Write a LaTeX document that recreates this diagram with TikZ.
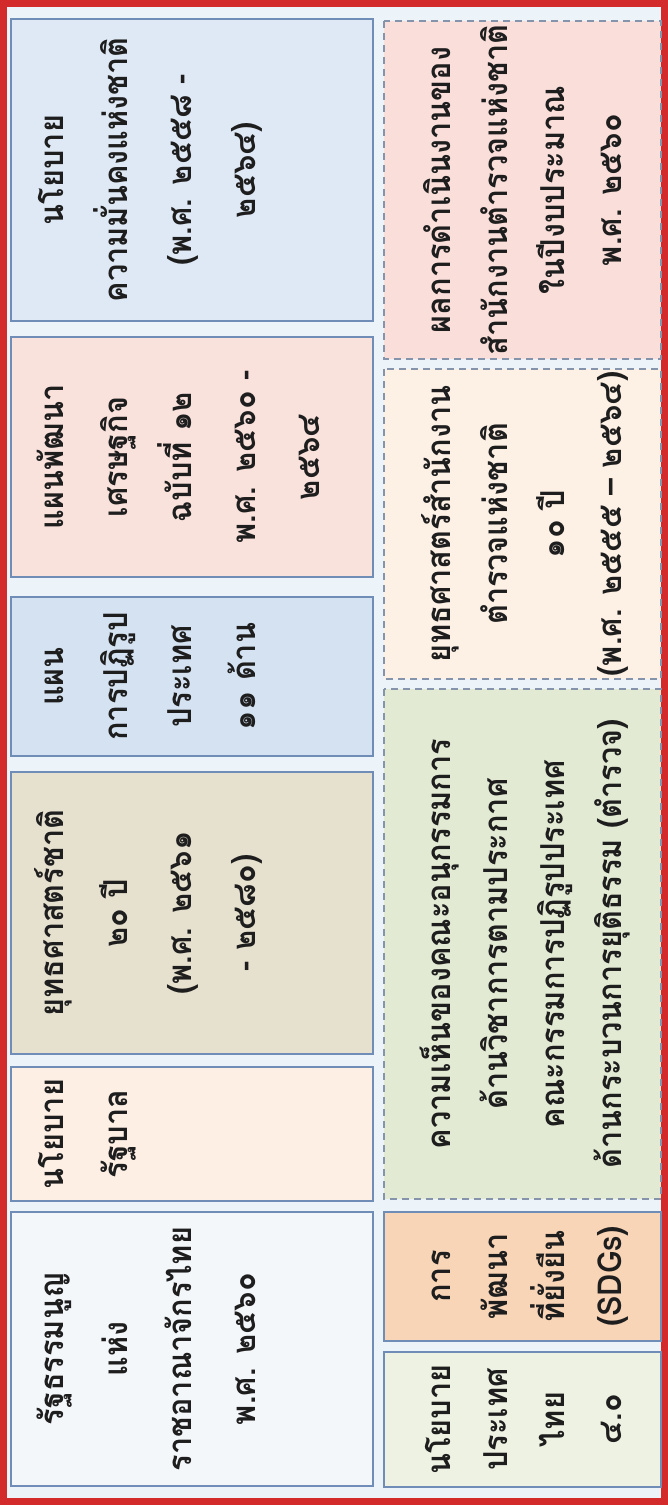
\documentclass[tikz,border=0pt]{standalone}
\usepackage{fontspec}
\newfontfamily\thaifont[Script=Thai,FakeStretch=0.93]{Loma}
\newcommand{\boxlines}[1]{\begin{tabular}[t]{@{}c@{}}#1\end{tabular}}
\definecolor{framered}{HTML}{D32B2B}
\definecolor{sheet}{HTML}{EDF4F9}
\definecolor{edge}{HTML}{6F8DB7}
\definecolor{dashedge}{HTML}{8594AA}
\definecolor{ink}{HTML}{1E1E1E}
\definecolor{fillsec}{HTML}{DFE9F5}
\definecolor{fillecon}{HTML}{F9E1DC}
\definecolor{fillref}{HTML}{D4E2F1}
\definecolor{fillnat}{HTML}{E6E0CE}
\definecolor{fillgov}{HTML}{FDEFE4}
\definecolor{fillcon}{HTML}{F4F7FA}
\definecolor{fillres}{HTML}{F9DEDA}
\definecolor{fillpol}{HTML}{FDF0E5}
\definecolor{fillsub}{HTML}{E2EAD3}
\definecolor{fillsdg}{HTML}{F9D5B8}
\definecolor{fillfour}{HTML}{EEF2E2}
\tikzset{
  topbox/.style={draw=edge, line width=1pt, anchor=north west, inner sep=0pt,
    minimum height=181pt, text height=26pt, text depth=155pt,
    font=\thaifont\bfseries\fontsize{16.5}{32}\selectfont, text=ink},
  lowbox/.style={topbox, minimum height=138.5pt, text height=33pt, text depth=105.5pt,
    font=\thaifont\bfseries\fontsize{16.5}{28.5}\selectfont},
  dashbox/.style={lowbox, draw=dashedge, dash pattern=on 3.5pt off 2.5pt}
}
\begin{document}
\begin{tikzpicture}[x=0.5pt,y=-0.5pt]
  \begin{scope}[rotate=90,transform shape]
    \useasboundingbox (0,0) rectangle (1505,668);
    \fill[sheet] (0,0) rectangle (1505,668);
    \draw[framered, line width=3.5pt] (3.5,3.5) rectangle (1501.5,664.5);

    \node[topbox, fill=fillcon, minimum width=137pt] (const) at (18,10)
      {\boxlines{รัฐธรรมนูญ\\แห่ง\\ราชอาณาจักรไทย\\พ.ศ. ๒๕๖๐}};
    \node[topbox, fill=fillgov, minimum width=67pt] (govpol) at (303,10)
      {\boxlines{นโยบาย\\รัฐบาล}};
    \node[topbox, fill=fillnat, minimum width=141pt] (natstrat) at (450,10)
      {\boxlines{ยุทธศาสตร์ชาติ\\๒๐ ปี\\(พ.ศ. ๒๕๖๑\\- ๒๕๘๐)}};
    \node[topbox, fill=fillref, minimum width=79.5pt] (reform) at (748,10)
      {\boxlines{แผน\\การปฏิรูป\\ประเทศ\\๑๑ ด้าน}};
    \node[topbox, fill=fillecon, minimum width=120pt] (econplan) at (927,10)
      {\boxlines{แผนพัฒนา\\เศรษฐกิจ\\ฉบับที่ ๑๒\\พ.ศ. ๒๕๖๐ -\\๒๕๖๔}};
    \node[topbox, fill=fillsec, minimum width=151pt] (secpol) at (1183,10)
      {\boxlines{นโยบาย\\ความมั่นคงแห่งชาติ\\(พ.ศ. ๒๕๕๘ -\\๒๕๖๔)}};

    \node[lowbox, fill=fillfour, minimum width=67.5pt] (thai40) at (17,383)
      {\boxlines{นโยบาย\\ประเทศ\\ไทย\\๔.๐}};
    \node[lowbox, fill=fillsdg, minimum width=64.5pt] (sdgs) at (163,383)
      {\boxlines{การ\\พัฒนา\\ที่ยั่งยืน\\(SDGs)}};
    \node[dashbox, fill=fillsub, minimum width=255pt] (subcom) at (305,383)
      {\boxlines{ความเห็นของคณะอนุกรรมการ\\ด้านวิชาการตามประกาศ\\คณะกรรมการปฏิรูปประเทศ\\ด้านกระบวนการยุติธรรม (ตำรวจ)}};
    \node[dashbox, fill=fillpol, minimum width=155pt] (polstrat) at (825,383)
      {\boxlines{ยุทธศาสตร์สำนักงาน\\ตำรวจแห่งชาติ\\๑๐ ปี\\(พ.ศ. ๒๕๕๕ – ๒๕๖๔)}};
    \node[dashbox, fill=fillres, minimum width=169pt] (results) at (1145,383)
      {\boxlines{ผลการดำเนินงานของ\\สำนักงานตำรวจแห่งชาติ\\ในปีงบประมาณ\\พ.ศ. ๒๕๖๐}};
  \end{scope}
\end{tikzpicture}
\end{document}
